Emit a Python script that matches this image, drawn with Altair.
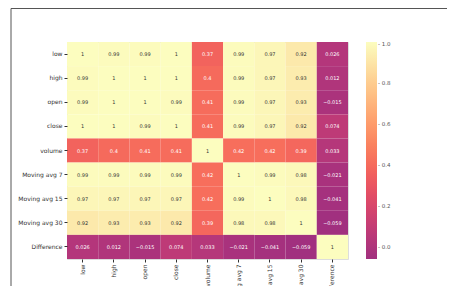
import altair as alt
import pandas as pd

labels = ["low", "high", "open", "close", "volume",
          "Moving avg 7", "Moving avg 15", "Moving avg 30", "Difference"]

row_low = [1, 0.99, 0.99, 1, 0.37, 0.99, 0.97, 0.92, 0.026]
row_high = [0.99, 1, 1, 1, 0.4, 0.99, 0.97, 0.93, 0.012]
row_open = [0.99, 1, 1, 0.99, 0.41, 0.99, 0.97, 0.93, -0.015]
row_close = [1, 1, 0.99, 1, 0.41, 0.99, 0.97, 0.92, 0.074]
row_volume = [0.37, 0.4, 0.41, 0.41, 1, 0.42, 0.42, 0.39, 0.033]
row_ma7 = [0.99, 0.99, 0.99, 0.99, 0.42, 1, 0.99, 0.98, -0.021]
row_ma15 = [0.97, 0.97, 0.97, 0.97, 0.42, 0.99, 1, 0.98, -0.041]
row_ma30 = [0.92, 0.93, 0.93, 0.92, 0.39, 0.98, 0.98, 1, -0.059]
row_diff = [0.026, 0.012, -0.015, 0.074, 0.033, -0.021, -0.041, -0.059, 1]

rows = [row_low, row_high, row_open, row_close, row_volume,
        row_ma7, row_ma15, row_ma30, row_diff]

records = []
for rname, vals in zip(labels, rows):
    for cname, v in zip(labels, vals):
        records.append({"row": rname, "col": cname, "value": v})
df = pd.DataFrame(records)

FONT = "DejaVu Sans"

x_enc = alt.X("col:N", sort=labels, title=None,
              axis=alt.Axis(labelAngle=-90, labelFontSize=6, labelColor="#333",
                            tickSize=3, tickColor="#333", domain=False,
                            labelPadding=2, labelFont=FONT))
y_enc = alt.Y("row:N", sort=labels, title=None,
              axis=alt.Axis(labelFontSize=6, labelColor="#333", tickSize=3,
                            tickColor="#333", domain=False, labelPadding=2,
                            labelFont=FONT))

base = alt.Chart(df)

heat = base.mark_rect().encode(
    x=x_enc,
    y=y_enc,
    color=alt.Color(
        "value:Q",
        scale=alt.Scale(scheme=alt.SchemeParams(name="magma", extent=[0.45, 1.0]),
                        domain=[-0.059, 1.0], nice=False, zero=False),
        legend=alt.Legend(title=None, gradientLength=217, gradientThickness=11,
                          values=[0.0, 0.2, 0.4, 0.6, 0.8, 1.0], format=".1f",
                          labelExpr="'- ' + datum.label",
                          labelFontSize=5.5, labelColor="#555", labelFont=FONT,
                          offset=18, padding=0, labelOffset=1,
                          gradientStrokeWidth=0, labelOverlap=False),
    ),
)

text = base.mark_text(fontSize=5, font=FONT).encode(
    x=alt.X("col:N", sort=labels),
    y=alt.Y("row:N", sort=labels),
    text=alt.Text("value:Q", format=".2~g"),
    color=alt.condition("datum.value > 0.6", alt.value("#333333"), alt.value("#ffffff")),
)

frame_df = pd.DataFrame({"k": [0]})
top_line = alt.Chart(frame_df).mark_rule(color="#555555", strokeWidth=1).encode(
    x=alt.value(-56), x2=alt.value(400), y=alt.value(-33.5))
left_line = alt.Chart(frame_df).mark_rule(color="#555555", strokeWidth=1).encode(
    x=alt.value(-56), y=alt.value(-33.5), y2=alt.value(260))

chart = alt.layer(heat, text, top_line, left_line).properties(
    width=281, height=217,
    autosize=alt.AutoSizeParams(type="none"),
    padding={"left": 59, "top": 34, "right": 99, "bottom": 27},
).configure_view(stroke=None).configure(background="white")

chart.save("out.html", embed_options={"renderer": "svg", "actions": False})
